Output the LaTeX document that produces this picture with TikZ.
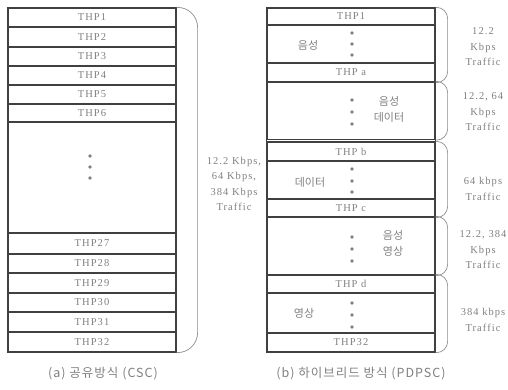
\documentclass[tikz,border=0pt]{standalone}
\usepackage{fontspec}
\setmainfont[LetterSpace=10]{Liberation Serif}
\newfontfamily\kofont{Noto Sans CJK KR}
\newfontfamily\capfont[LetterSpace=8]{Noto Sans CJK KR}
\definecolor{linegray}{gray}{0.25}
\definecolor{textgray}{gray}{0.5}
\tikzset{
    thprow/.style={rectangle, draw=linegray, line width=1.2pt, minimum width=168, inner sep=0pt, text=textgray, font=\fontsize{10.5}{12}\selectfont},
    kolabel/.style={text=textgray, font=\kofont\fontsize{11}{16}\selectfont, align=center, inner sep=0pt},
    rate/.style={text=textgray, font=\fontsize{10.5}{15.5}\selectfont, align=center, inner sep=0pt},
    caption/.style={text=textgray, font=\capfont\fontsize{12.5}{14}\selectfont, inner sep=0pt},
    vdot/.style={circle, fill=textgray, minimum size=3.6pt, inner sep=0pt},
    paren/.style={draw=black!45, line width=0.7pt}
}

\begin{document}
\begin{tikzpicture}[x=1pt, y=-1pt]
        \useasboundingbox (0,0) rectangle (508,390);

        % (a) left column
        \node[thprow, minimum height=19] (a1) at (92,17.5) {THP1};
        \node[thprow, minimum height=20] (a2) at (92,37) {THP2};
        \node[thprow, minimum height=19] (a3) at (92,56.5) {THP3};
        \node[thprow, minimum height=19] (a4) at (92,75.5) {THP4};
        \node[thprow, minimum height=19] (a5) at (92,94.5) {THP5};
        \node[thprow, minimum height=18] (a6) at (92,113) {THP6};
        \node[thprow, minimum height=111] (agap) at (92,177.5) {};
        \node[thprow, minimum height=21] (a27) at (92,243.5) {THP27};
        \node[thprow, minimum height=19] (a28) at (92,263.5) {THP28};
        \node[thprow, minimum height=20] (a29) at (92,283) {THP29};
        \node[thprow, minimum height=19] (a30) at (92,302.5) {THP30};
        \node[thprow, minimum height=20] (a31) at (92,322) {THP31};
        \node[thprow, minimum height=20] (a32) at (92,342) {THP32};

        \node[vdot] (ad1) at (90,156) {};
        \node[vdot] (ad2) at (90,167) {};
        \node[vdot] (ad3) at (90,178) {};

        \draw[paren, rounded corners=20] (a1.north east) -- ++(21,0) |- (a32.south east);
        \node[rate] (sall) at (234,184) {12.2 Kbps,\\64 Kbps,\\384 Kbps\\Traffic};

        \node[caption] (capa) at (103,374) {(a) 공유방식 (CSC)};

        % (b) right column
        \node[thprow, minimum height=17] (r1) at (351,16.5) {THP1};
        \node[thprow, minimum height=38] (rv) at (351,44) {};
        \node[thprow, minimum height=19] (ra) at (351,72.5) {THP a};
        \node[thprow, minimum height=57.5] (rvd) at (351,110.75) {};
        \node[thprow, minimum height=19] (rb) at (351,151.5) {THP b};
        \node[thprow, minimum height=38] (rd) at (351,180) {};
        \node[thprow, minimum height=18] (rc) at (351,208) {THP c};
        \node[thprow, minimum height=58] (rvv) at (351,246) {};
        \node[thprow, minimum height=18] (rdd) at (351,284) {THP d};
        \node[thprow, minimum height=40] (rvid) at (351,313) {};
        \node[thprow, minimum height=19] (r32) at (351,342.5) {THP32};

        % close the double line at THP b
        \draw[draw=linegray, line width=1.2pt] (rvd.south west) -- (rb.north west);
        \draw[draw=linegray, line width=1.2pt] (rvd.south east) -- (rb.north east);

        \node[kolabel] (tv1) at (308,45) {음성};
        \node[kolabel] (tv2) at (389,109) {음성\\데이터};
        \node[kolabel] (td3) at (310,182) {데이터};
        \node[kolabel] (tv4) at (393,243) {음성\\영상};
        \node[kolabel] (tv5) at (304,313) {영상};

        \node[vdot] (d11) at (352,33) {};
        \node[vdot] (d12) at (352,44) {};
        \node[vdot] (d13) at (352,55) {};
        \node[vdot] (d21) at (352,100) {};
        \node[vdot] (d22) at (352,112) {};
        \node[vdot] (d23) at (352,124) {};
        \node[vdot] (d31) at (352,169) {};
        \node[vdot] (d32) at (352,181) {};
        \node[vdot] (d33) at (352,192) {};
        \node[vdot] (d41) at (352,237) {};
        \node[vdot] (d42) at (352,249) {};
        \node[vdot] (d43) at (352,261) {};
        \node[vdot] (d51) at (352,303) {};
        \node[vdot] (d52) at (352,315) {};
        \node[vdot] (d53) at (352,327) {};

        \draw[paren, rounded corners=11] (r1.north east) -- ++(12,0) |- (ra.south east);
        \draw[paren, rounded corners=11] (rvd.north east) -- ++(12,0) |- (rvd.south east);
        \draw[paren, rounded corners=11] (rb.north east) -- ++(12,0) |- (rc.south east);
        \draw[paren, rounded corners=11] (rvv.north east) -- ++(12,0) |- (rvv.south east);
        \draw[paren, rounded corners=11] (rdd.north east) -- ++(12,0) |- (r32.south east);

        \node[rate] (s1) at (483,47) {12.2\\Kbps\\Traffic};
        \node[rate] (s2) at (483,112) {12.2, 64\\Kbps\\Traffic};
        \node[rate] (s3) at (483,189) {64 kbps\\Traffic};
        \node[rate] (s4) at (483,250) {12.2, 384\\Kbps\\Traffic};
        \node[rate] (s5) at (483,320) {384 kbps\\Traffic};

        \node[caption] (capb) at (361,374) {(b) 하이브리드 방식 (PDPSC)};
    \end{tikzpicture}
\end{document}
